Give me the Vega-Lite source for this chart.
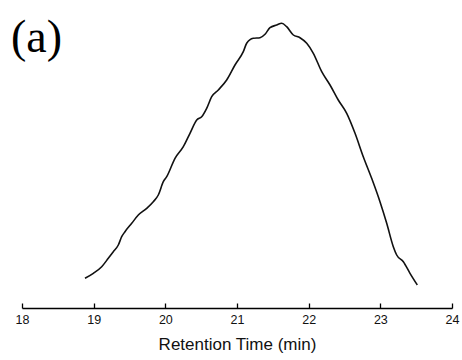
{
  "$schema": "https://vega.github.io/schema/vega-lite/v6.json",
  "autosize": {"type": "none"},
  "padding": {"left": 22, "top": 18, "right": 10, "bottom": 52},
  "width": 430,
  "height": 290,
  "background": "white",
  "config": {"view": {"stroke": null}},
  "title": {
    "text": "(a)",
    "anchor": "start",
    "frame": "group",
    "font": "Liberation Serif",
    "fontSize": 46,
    "fontWeight": "normal",
    "color": "black",
    "baseline": "alphabetic",
    "offset": -32,
    "dy": 48,
    "dx": -11
  },
  "data": {
    "values": [
      {"t": 18.879, "s": 29.7},
      {"t": 18.995, "s": 34.7},
      {"t": 19.112, "s": 41.3},
      {"t": 19.204, "s": 49.7},
      {"t": 19.274, "s": 56.3},
      {"t": 19.344, "s": 63.0},
      {"t": 19.391, "s": 71.3},
      {"t": 19.437, "s": 76.3},
      {"t": 19.531, "s": 84.7},
      {"t": 19.623, "s": 93.0},
      {"t": 19.740, "s": 99.7},
      {"t": 19.832, "s": 106.3},
      {"t": 19.902, "s": 113.0},
      {"t": 19.972, "s": 126.3},
      {"t": 20.019, "s": 131.3},
      {"t": 20.135, "s": 149.7},
      {"t": 20.251, "s": 161.3},
      {"t": 20.344, "s": 174.7},
      {"t": 20.438, "s": 188.0},
      {"t": 20.507, "s": 191.3},
      {"t": 20.577, "s": 199.7},
      {"t": 20.647, "s": 211.3},
      {"t": 20.739, "s": 218.0},
      {"t": 20.856, "s": 228.0},
      {"t": 20.972, "s": 243.0},
      {"t": 21.088, "s": 256.3},
      {"t": 21.135, "s": 264.7},
      {"t": 21.227, "s": 269.7},
      {"t": 21.321, "s": 270.3},
      {"t": 21.391, "s": 273.7},
      {"t": 21.460, "s": 280.3},
      {"t": 21.554, "s": 283.0},
      {"t": 21.624, "s": 284.7},
      {"t": 21.693, "s": 281.3},
      {"t": 21.786, "s": 273.0},
      {"t": 21.879, "s": 270.3},
      {"t": 21.973, "s": 264.7},
      {"t": 22.065, "s": 254.7},
      {"t": 22.182, "s": 236.3},
      {"t": 22.298, "s": 223.0},
      {"t": 22.413, "s": 208.0},
      {"t": 22.531, "s": 194.7},
      {"t": 22.647, "s": 174.7},
      {"t": 22.762, "s": 151.3},
      {"t": 22.879, "s": 129.7},
      {"t": 22.995, "s": 106.3},
      {"t": 23.089, "s": 84.7},
      {"t": 23.181, "s": 61.3},
      {"t": 23.228, "s": 53.0},
      {"t": 23.321, "s": 46.3},
      {"t": 23.414, "s": 34.7},
      {"t": 23.516, "s": 23.0}
    ]
  },
  "mark": {"type": "line", "color": "#111111", "strokeWidth": 1.6, "interpolate": "monotone"},
  "encoding": {
    "x": {
      "field": "t",
      "type": "quantitative",
      "scale": {"domain": [18, 24], "nice": false, "zero": false},
      "axis": {
        "title": "Retention Time (min)",
        "values": [18, 18.5, 19, 19.5, 20, 20.5, 21, 21.5, 22, 22.5, 23, 23.5, 24],
        "format": "d",
        "labelExpr": "datum.value % 1 === 0 ? datum.label : ''",
        "grid": false,
        "domainColor": "black",
        "domainWidth": 1.3,
        "tickColor": "black",
        "tickWidth": 1.3,
        "tickSize": {"condition": {"test": "datum.value % 1 !== 0", "value": -3}, "value": -5},
        "labelFont": "Liberation Sans",
        "labelFontSize": 12.5,
        "labelColor": "#111111",
        "labelPadding": 10,
        "labelFlush": false,
        "labelOverlap": false,
        "titleFont": "Liberation Sans",
        "titleFontSize": 17,
        "titleFontWeight": "normal",
        "titleColor": "#111111",
        "titlePadding": 11
      }
    },
    "y": {
      "field": "s",
      "type": "quantitative",
      "scale": {"domain": [0, 290], "nice": false, "zero": false},
      "axis": null
    }
  }
}
